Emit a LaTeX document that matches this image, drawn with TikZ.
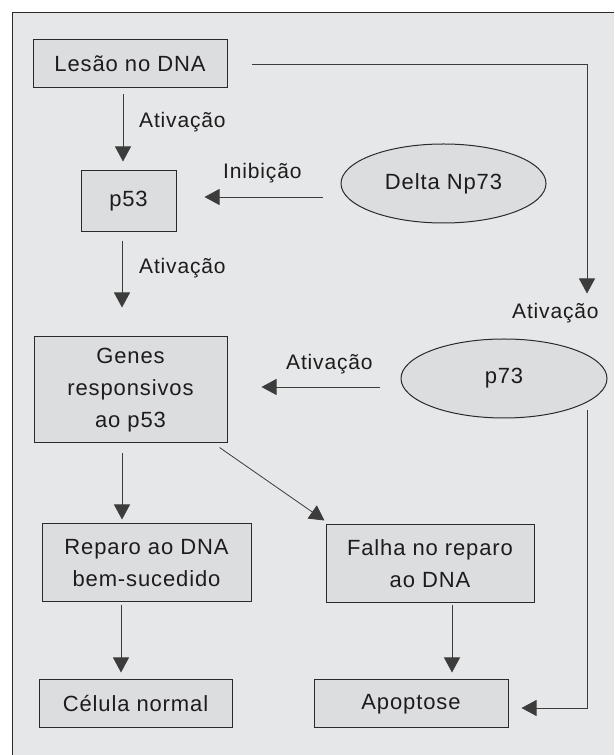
\documentclass[tikz,border=0pt]{standalone}
\usepackage{fontspec}
\setmainfont{Liberation Sans}[LetterSpace=4]
\usetikzlibrary{arrows.meta,shapes.geometric}

\definecolor{framefill}{HTML}{E6E7E8}
\definecolor{boxfill}{HTML}{DCDDDF}
\definecolor{linecol}{HTML}{2A2A2A}
\definecolor{arrowcol}{HTML}{3C3C3C}
\definecolor{textcol}{HTML}{1E1B1C}

\tikzset{
  box/.style={draw=linecol,line width=1pt,fill=boxfill,inner sep=0pt,text=textcol,align=center,font=\fontsize{22}{32}\selectfont},
  oval/.style={box,ellipse},
  arr/.style={draw=arrowcol,line width=0.8pt,-{Triangle[width=16pt,length=15pt]}},
  lbl/.style={anchor=west,inner sep=0pt,text=textcol,font=\fontsize{21}{32}\selectfont}
}

\begin{document}
\begin{tikzpicture}[x=1pt,y=1pt]
  \useasboundingbox (0,0) rectangle (614,755);
  \fill[framefill] (12,0) rectangle (614,743);
  \draw[color=linecol] (12,0) -- (12,743) -- (614,743);

  \node[box,minimum width=194pt,minimum height=48pt] (lesao) at (130,691) {Lesão no DNA};
  \node[box,minimum width=95pt,minimum height=61pt] (p53) at (128.5,553.5) {p53};
  \node[oval,minimum width=205pt,minimum height=79pt] (deltanp) at (443.5,571.5) {Delta Np73};
  \node[box,minimum width=193pt,minimum height=106pt] (genes) at (130.5,365) {Genes\\responsivos\\ao p53};
  \node[oval,minimum width=206pt,minimum height=79pt] (p73) at (504,376.5) {p73};
  \node[box,minimum width=209pt,minimum height=78pt] (reparo) at (146.5,192) {Reparo ao DNA\\bem-sucedido};
  \node[box,minimum width=208pt,minimum height=78pt] (falha) at (430,191) {Falha no reparo\\ao DNA};
  \node[box,minimum width=193pt,minimum height=48pt] (celula) at (135.5,51) {Célula normal};
  \node[box,minimum width=194pt,minimum height=48pt] (apoptose) at (411,51) {Apoptose};

  \draw[arr] ([xshift=-7pt,yshift=-6pt]lesao.south) -- ([xshift=-7pt,yshift=9pt]lesao.south |- p53.north);
  \node[lbl] (ativ1) at (139,633) {Ativação};

  \draw[arr] ([xshift=-6.5pt,yshift=-9pt]p53.south) -- ([xshift=-6.5pt,yshift=29pt]p53.south |- genes.north);
  \node[lbl] (ativ2) at (139,487) {Ativação};

  \draw[arr] ([xshift=-18pt,yshift=4.5pt]deltanp.west |- p53.east) -- ([xshift=28pt,yshift=4.5pt]p53.east);
  \node[lbl] (inib) at (223,582) {Inibição};

  \draw[arr] ([xshift=-21pt,yshift=3pt]p73.west |- genes.east) -- ([xshift=34pt,yshift=3pt]genes.east);
  \node[lbl] (ativ3) at (286,391) {Ativação};

  \draw[arr] ([xshift=24pt]lesao.east) -| ([xshift=83pt,yshift=45pt]p73.north);
  \node[lbl] (ativ4) at (512,442) {Ativação};

  \draw[arr] ([xshift=83pt,yshift=8pt]p73.south) |- ([xshift=13pt,yshift=-4pt]apoptose.east);

  \draw[arr] ([xshift=-8.5pt,yshift=-10pt]genes.south) -- ([xshift=-8.5pt,yshift=4pt]genes.south |- reparo.north);
  \draw[arr] ([xshift=-8pt,yshift=-4pt]genes.south east) -- ([xshift=-1pt,yshift=4pt]falha.north west);
  \draw[arr] ([xshift=-25.5pt,yshift=-3pt]reparo.south) -- ([xshift=-25.5pt,yshift=7pt]reparo.south |- celula.north);
  \draw[arr] ([xshift=22pt,yshift=-2pt]falha.south) -- ([xshift=22pt,yshift=7pt]falha.south |- apoptose.north);
\end{tikzpicture}
\end{document}
